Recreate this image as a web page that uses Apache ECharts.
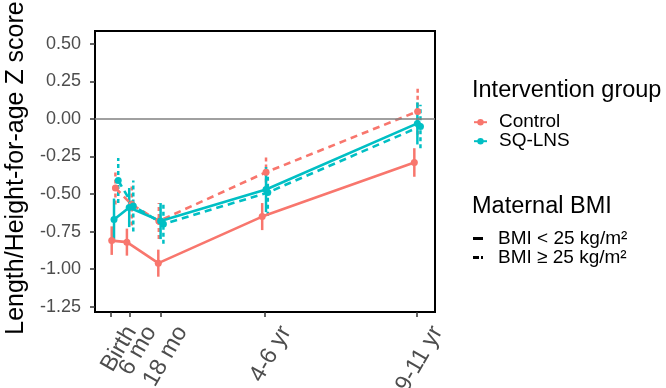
<!DOCTYPE html>
<html><head><meta charset="utf-8">
<script src="https://cdn.jsdelivr.net/npm/echarts@6/dist/echarts.min.js"></script>
<style>html,body{margin:0;padding:0;background:#fff}#chart{width:666px;height:388px}</style>
</head><body><div id="chart"></div>
<script>
const xTickPositions = [0, 7.8, 19.9, 60.6, 120];
const xTickLabels = ['Birth', '6 mo', '18 mo', '4-6 yr', '9-11 yr'];
const yTickValues = [-1.25, -1.0, -0.75, -0.5, -0.25, 0, 0.25, 0.5];
const groupNames = ['Control', 'SQ-LNS'];
const bmiNames = ['BMI < 25 kg/m²', 'BMI ≥ 25 kg/m²'];

const controlLowAge = [0.55, 6.5, 18.8, 59.5, 119.1];
const controlLowZ = [-0.81, -0.82, -0.96, -0.65, -0.29];
const controlLowErr = [0.095, 0.09, 0.09, 0.09, 0.095];

const controlHighAge = [2.0, 8.4, 19.0, 61.0, 120.4];
const controlHighZ = [-0.46, -0.57, -0.68, -0.355, 0.05];
const controlHighErr = [0.11, 0.14, 0.12, 0.115, 0.155];

const lnsLowAge = [1.45, 7.4, 19.7, 61.0, 120.3];
const lnsLowZ = [-0.67, -0.59, -0.68, -0.47, -0.03];
const lnsLowErr = [0.14, 0.13, 0.12, 0.15, 0.14];

const lnsHighAge = [3.1, 9.0, 20.8, 61.7, 121.5];
const lnsHighZ = [-0.41, -0.58, -0.70, -0.49, -0.05];
const lnsHighErr = [0.15, 0.17, 0.13, 0.155, 0.145];

const COL_CONTROL = '#F8766D';
const COL_LNS = '#00BFC4';
const FONT = "'Liberation Sans', Arial, sans-serif";

// Ticks split over two overlaid bottom axes so closely spaced labels are all kept
const tickSetA = [0, 2, 3, 4].map(i => xTickPositions[i]);
const tickSetB = [1].map(i => xTickPositions[i]);

function lineSeries(name, ages, z, color, dashed, extra) {
  return Object.assign({
    type: 'line', name: name,
    data: ages.map((a, i) => [a, z[i]]),
    symbol: 'circle', symbolSize: 7,
    itemStyle: { color: color },
    lineStyle: { color: color, width: 2.6, type: dashed ? [7, 5] : 'solid' },
    emphasis: { disabled: true }, silent: true
  }, extra || {});
}
function errSeries(name, ages, z, err, color, dashed) {
  return {
    type: 'custom', name: name, silent: true,
    data: ages.map((a, i) => [a, z[i] - err[i], z[i] + err[i]]),
    encode: { x: 0, y: [1, 2] },
    renderItem: function (params, api) {
      const p1 = api.coord([api.value(0), api.value(1)]);
      const p2 = api.coord([api.value(0), api.value(2)]);
      return { type: 'line', shape: { x1: p1[0], y1: p1[1], x2: p2[0], y2: p2[1] },
        style: { stroke: color, lineWidth: 2.5, lineDash: dashed ? [4, 3] : null } };
    }
  };
}
function xAxisWith(ticks, showLine) {
  return {
    type: 'value', min: -6, max: 127.2, position: 'bottom', offset: 0,
    splitLine: { show: false },
    axisLine: { show: showLine, onZero: false, lineStyle: { color: '#000', width: 2 } },
    axisTick: { show: true, inside: false, length: 5, customValues: ticks, lineStyle: { color: '#333', width: 1.5 } },
    axisLabel: {
      customValues: ticks, hideOverlap: false, showMinLabel: true, showMaxLabel: true,
      formatter: function (v) { const i = xTickPositions.findIndex(p => Math.abs(p - v) < 1e-6); return i >= 0 ? xTickLabels[i] : ''; },
      rotate: 60, verticalAlign: 'top', padding: [12, 0, 0, 0], margin: 4,
      fontSize: 23.5, color: '#4d4d4d', fontFamily: FONT
    }
  };
}

const chart = echarts.init(document.getElementById('chart'), null, { renderer: 'canvas' });
chart.setOption({
  animation: false,
  textStyle: { fontFamily: FONT },
  title: [
    { text: 'Intervention group', left: 472, top: 79, padding: 0,
      textStyle: { fontSize: 23.5, fontWeight: 'normal', color: '#000', fontFamily: FONT } },
    { text: 'Maternal BMI', left: 472, top: 195, padding: 0,
      textStyle: { fontSize: 23.5, fontWeight: 'normal', color: '#000', fontFamily: FONT } }
  ],
  legend: [
    { data: groupNames, orient: 'vertical', left: 473, top: 112.7, padding: 0,
      itemWidth: 13, itemHeight: 8, itemGap: 0, selectedMode: false,
      textStyle: { fontSize: 19, color: '#000', fontFamily: FONT, padding: [0, 0, 0, 7], lineHeight: 18 } },
    { data: [{ name: bmiNames[0], icon: 'path://M0,0H10V3H0Z' },
             { name: bmiNames[1], icon: 'path://M0,0H6V3H0Z M8,0H10V3H8Z' }],
      orient: 'vertical', left: 473, top: 229, padding: 0,
      itemWidth: 10, itemHeight: 3, itemGap: 0, selectedMode: false,
      textStyle: { fontSize: 19, color: '#000', fontFamily: FONT, padding: [0, 0, 0, 10], lineHeight: 17 } }
  ],
  grid: { left: 95, right: 231, top: 31, bottom: 76, show: true, borderColor: '#000', borderWidth: 2,
    backgroundColor: 'transparent', containLabel: false, outerBoundsMode: 'none' },
  xAxis: [xAxisWith(tickSetA, true), xAxisWith(tickSetB, false)],
  yAxis: {
    type: 'value', min: -1.285, max: 0.585,
    splitLine: { show: false },
    axisLine: { show: true, onZero: false, lineStyle: { color: '#000', width: 2 } },
    axisTick: { show: true, inside: false, length: 5, customValues: yTickValues, lineStyle: { color: '#333', width: 1.5 } },
    axisLabel: { customValues: yTickValues, hideOverlap: false, formatter: v => v.toFixed(2), fontSize: 18, color: '#4d4d4d', margin: 14, fontFamily: FONT },
    name: 'Length/Height-for-age Z score', nameLocation: 'middle', nameGap: 64, nameRotate: 90,
    nameTextStyle: { fontSize: 25, color: '#000', fontFamily: FONT, padding: [0, 0, 0, 7] }
  },
  series: [
    lineSeries('Control', controlLowAge, controlLowZ, COL_CONTROL, false, {
      markLine: { silent: true, symbol: 'none', label: { show: false }, animation: false,
        lineStyle: { color: '#808080', width: 1.5, type: 'solid' }, data: [{ yAxis: 0 }] }
    }),
    errSeries('Control', controlLowAge, controlLowZ, controlLowErr, COL_CONTROL, false),
    lineSeries('Control', controlHighAge, controlHighZ, COL_CONTROL, true),
    errSeries('Control', controlHighAge, controlHighZ, controlHighErr, COL_CONTROL, true),
    lineSeries('SQ-LNS', lnsLowAge, lnsLowZ, COL_LNS, false),
    errSeries('SQ-LNS', lnsLowAge, lnsLowZ, lnsLowErr, COL_LNS, false),
    lineSeries('SQ-LNS', lnsHighAge, lnsHighZ, COL_LNS, true),
    errSeries('SQ-LNS', lnsHighAge, lnsHighZ, lnsHighErr, COL_LNS, true),
    { type: 'line', name: bmiNames[0], data: [], symbol: 'none', itemStyle: { color: '#000' }, lineStyle: { color: '#000' } },
    { type: 'line', name: bmiNames[1], data: [], symbol: 'none', itemStyle: { color: '#000' }, lineStyle: { color: '#000', type: 'dashed' } }
  ]
});
</script></body></html>
